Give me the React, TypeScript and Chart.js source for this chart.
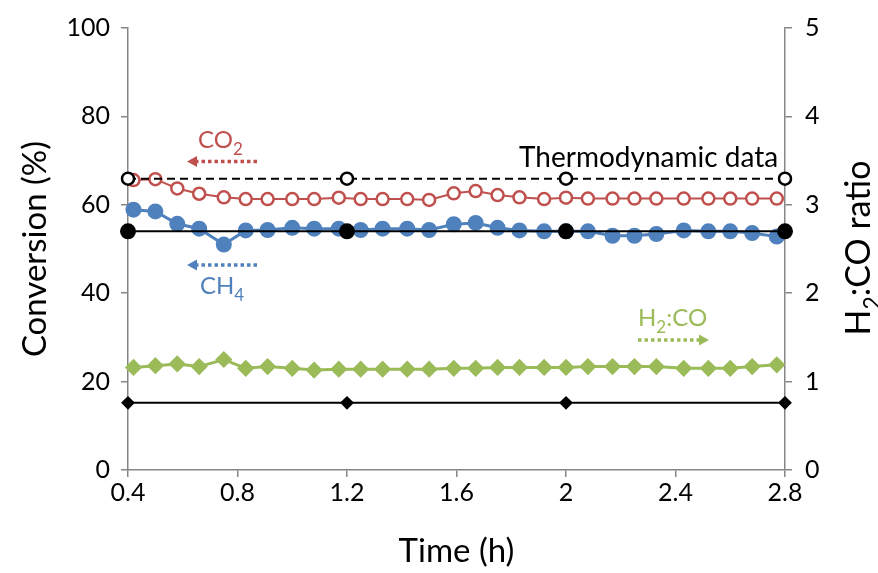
import React, { useEffect, useRef } from "react";
import { Chart, registerables } from "chart.js";

Chart.register(...registerables);

// ---------- data ----------
const timeH = [0.42, 0.50, 0.58, 0.66, 0.75, 0.83, 0.91, 1.00, 1.08, 1.17, 1.25, 1.33, 1.42, 1.50, 1.59, 1.67, 1.75, 1.83, 1.92, 2.00, 2.08, 2.17, 2.25, 2.33, 2.43, 2.52, 2.60, 2.68, 2.77];
const co2Conv = [65.6, 65.8, 63.7, 62.5, 61.7, 61.3, 61.3, 61.3, 61.3, 61.6, 61.3, 61.3, 61.3, 61.1, 62.6, 63.1, 62.2, 61.7, 61.3, 61.6, 61.4, 61.4, 61.4, 61.4, 61.4, 61.4, 61.4, 61.4, 61.4];
const ch4Conv = [58.9, 58.5, 55.7, 54.6, 51.0, 54.2, 54.3, 54.8, 54.6, 54.6, 54.3, 54.6, 54.6, 54.3, 55.6, 55.9, 54.8, 54.2, 54.0, 54.0, 54.0, 53.0, 53.0, 53.4, 54.2, 54.0, 54.0, 53.6, 52.8];
const h2coRatio = [1.16, 1.18, 1.20, 1.17, 1.25, 1.15, 1.17, 1.15, 1.13, 1.14, 1.14, 1.14, 1.14, 1.14, 1.15, 1.15, 1.16, 1.16, 1.16, 1.16, 1.17, 1.17, 1.17, 1.17, 1.15, 1.15, 1.15, 1.17, 1.19];

const thermoTime = [0.4, 1.2, 2.0, 2.8];
const thermoCO2 = [65.9, 65.9, 65.9, 65.9];
const thermoCH4 = [54.0, 54.0, 54.0, 54.0];
const thermoRatio = [0.76, 0.76, 0.76, 0.76];

const xTicks = [0.4, 0.8, 1.2, 1.6, 2.0, 2.4, 2.8];
const xTickLabels = ["0.4", "0.8", "1.2", "1.6", "2", "2.4", "2.8"];
const yTicks = [0, 20, 40, 60, 80, 100];
const y2Ticks = [0, 1, 2, 3, 4, 5];

const xTitle = "Time (h)";
const yTitle = "Conversion (%)";

// ---------- styles ----------
const RED = "#C0504D";
const BLUE = "#4F81BD";
const GREEN = "#9BBB59";
const AXIS = "#868686";
const FONT = "Lato";

const pts = (xs: number[], ys: number[]) => xs.map((x, i) => ({ x, y: ys[i] }));

type Seg = { t: string; sub?: boolean };

function drawRich(ctx: CanvasRenderingContext2D, segs: Seg[], x: number, y: number, size: number, subSize: number, color: string, align: "left" | "center" = "left") {
  ctx.save();
  ctx.fillStyle = color;
  ctx.textBaseline = "alphabetic";
  ctx.textAlign = "left";
  let total = 0;
  const widths = segs.map((s) => {
    ctx.font = `${s.sub ? subSize : size}px ${FONT}`;
    const w = ctx.measureText(s.t).width;
    total += w;
    return w;
  });
  let cx = align === "center" ? x - total / 2 : x;
  segs.forEach((s, i) => {
    ctx.font = `${s.sub ? subSize : size}px ${FONT}`;
    ctx.fillText(s.t, cx, s.sub ? y + size * 0.3 : y);
    cx += widths[i];
  });
  ctx.restore();
}

function drawArrow(ctx: CanvasRenderingContext2D, x1: number, x2: number, y: number, color: string) {
  const dir = Math.sign(x2 - x1);
  const headLen = 10;
  ctx.save();
  ctx.strokeStyle = color;
  ctx.fillStyle = color;
  ctx.lineWidth = 3.5;
  ctx.setLineDash([3.5, 3]);
  ctx.beginPath();
  ctx.moveTo(x1, y);
  ctx.lineTo(x2 - dir * headLen, y);
  ctx.stroke();
  ctx.setLineDash([]);
  ctx.beginPath();
  ctx.moveTo(x2, y);
  ctx.lineTo(x2 - dir * headLen, y - 5.5);
  ctx.lineTo(x2 - dir * headLen, y + 5.5);
  ctx.closePath();
  ctx.fill();
  ctx.restore();
}

const annotPlugin = {
  id: "annot",
  afterDraw(chart: any) {
    const ctx: CanvasRenderingContext2D = chart.ctx;
    drawRich(ctx, [{ t: "CO" }, { t: "2", sub: true }], 198, 148, 24, 17, RED);
    drawArrow(ctx, 257, 187, 161.5, RED);
    drawArrow(ctx, 257, 187, 265, BLUE);
    drawRich(ctx, [{ t: "CH" }, { t: "4", sub: true }], 200, 294, 24, 17, BLUE);
    drawRich(ctx, [{ t: "H" }, { t: "2", sub: true }, { t: ":CO" }], 638, 326, 24, 17, GREEN);
    drawArrow(ctx, 638, 709, 340, GREEN);
    ctx.save();
    ctx.font = `28px ${FONT}`;
    ctx.fillStyle = "#000";
    ctx.textBaseline = "alphabetic";
    ctx.fillText("Thermodynamic data", 519, 167);
    ctx.restore();
    ctx.save();
    ctx.translate(858, 248);
    ctx.rotate(-Math.PI / 2);
    drawRich(ctx, [{ t: "H" }, { t: "2", sub: true }, { t: ":CO ratio" }], 0, 12, 34, 23, "#000", "center");
    ctx.restore();
  },
};

export default function App() {
  const ref = useRef<HTMLCanvasElement>(null);
  useEffect(() => {
    const canvas = ref.current!;
    const tickFont = { family: FONT, size: 25 };
    const chart = new Chart(canvas, {
      type: "line",
      data: {
        datasets: [
          {
            label: "Thermo CO2",
            data: pts(thermoTime, thermoCO2),
            yAxisID: "y",
            borderColor: "#000",
            borderWidth: 2,
            borderDash: [8, 5],
            pointStyle: "circle",
            pointRadius: 6,
            pointBorderWidth: 2.5,
            pointBackgroundColor: "#fff",
            pointBorderColor: "#000",
          },
          {
            label: "Thermo CH4",
            data: pts(thermoTime, thermoCH4),
            yAxisID: "y",
            borderColor: "#000",
            borderWidth: 2,
            pointStyle: "circle",
            pointRadius: 7,
            pointBackgroundColor: "#000",
            pointBorderColor: "#000",
          },
          {
            label: "Thermo H2:CO",
            data: pts(thermoTime, thermoRatio),
            yAxisID: "y2",
            borderColor: "#000",
            borderWidth: 2,
            pointStyle: "rectRot",
            pointRadius: 5.5,
            pointBackgroundColor: "#000",
            pointBorderColor: "#000",
          },
          {
            label: "CO2",
            data: pts(timeH, co2Conv),
            yAxisID: "y",
            borderColor: RED,
            borderWidth: 2,
            pointStyle: "circle",
            pointRadius: 6,
            pointBorderWidth: 2.5,
            pointBackgroundColor: "#fff",
            pointBorderColor: RED,
          },
          {
            label: "CH4",
            data: pts(timeH, ch4Conv),
            yAxisID: "y",
            borderColor: BLUE,
            borderWidth: 3,
            pointStyle: "circle",
            pointRadius: 6.5,
            pointBackgroundColor: BLUE,
            pointBorderColor: BLUE,
          },
          {
            label: "H2:CO",
            data: pts(timeH, h2coRatio),
            yAxisID: "y2",
            borderColor: GREEN,
            borderWidth: 3,
            pointStyle: "rectRot",
            pointRadius: 6.5,
            pointBackgroundColor: GREEN,
            pointBorderColor: GREEN,
          },
        ],
      },
      options: {
        animation: false,
        responsive: false,
        devicePixelRatio: 1,
        datasets: { line: { clip: false } },
        layout: { padding: { top: 27, left: 0, right: 0, bottom: 0 } },
        plugins: { legend: { display: false }, tooltip: { enabled: false } },
        scales: {
          x: {
            type: "linear",
            min: 0.4,
            max: 2.8,
            afterBuildTicks: (s: any) => {
              s.ticks = xTicks.map((v) => ({ value: v }));
            },
            afterFit: (s: any) => {
              s.height = 103;
            },
            ticks: {
              autoSkip: false,
              maxRotation: 0,
              padding: 1,
              color: "#000",
              font: tickFont,
              callback: (v: any) => {
                const i = xTicks.findIndex((t) => Math.abs(t - v) < 1e-6);
                return i >= 0 ? xTickLabels[i] : "";
              },
            },
            grid: { drawOnChartArea: false, drawTicks: true, tickLength: 7, color: AXIS, lineWidth: 1.5 },
            border: { display: true, color: AXIS, width: 1.5 },
            title: { display: true, text: xTitle, color: "#000", font: { family: FONT, size: 33 }, padding: { top: 0, bottom: 2 } },
          },
          y: {
            position: "left",
            min: 0,
            max: 100,
            afterBuildTicks: (s: any) => {
              s.ticks = yTicks.map((v) => ({ value: v }));
            },
            afterFit: (s: any) => {
              s.width = 128;
            },
            ticks: { padding: 11, color: "#000", font: tickFont },
            grid: { drawOnChartArea: false, drawTicks: true, tickLength: 7, color: AXIS, lineWidth: 1.5 },
            border: { display: true, color: AXIS, width: 1.5 },
            title: { display: true, text: yTitle, color: "#000", font: { family: FONT, size: 33 }, padding: { top: 16, bottom: 0 } },
          },
          y2: {
            position: "right",
            min: 0,
            max: 5,
            afterBuildTicks: (s: any) => {
              s.ticks = y2Ticks.map((v) => ({ value: v }));
            },
            afterFit: (s: any) => {
              s.width = 93;
            },
            ticks: { padding: 13, color: "#000", font: tickFont },
            grid: { drawOnChartArea: false, drawTicks: true, tickLength: 7, color: AXIS, lineWidth: 1.5 },
            border: { display: true, color: AXIS, width: 1.5 },
          },
        },
      },
      plugins: [annotPlugin],
    } as any);
    return () => chart.destroy();
  }, []);
  return (
    <div style={{ position: "fixed", left: 0, top: 0, width: 878, height: 573, background: "#fff" }}>
      <canvas ref={ref} width={878} height={573} style={{ display: "block" }} />
    </div>
  );
}
